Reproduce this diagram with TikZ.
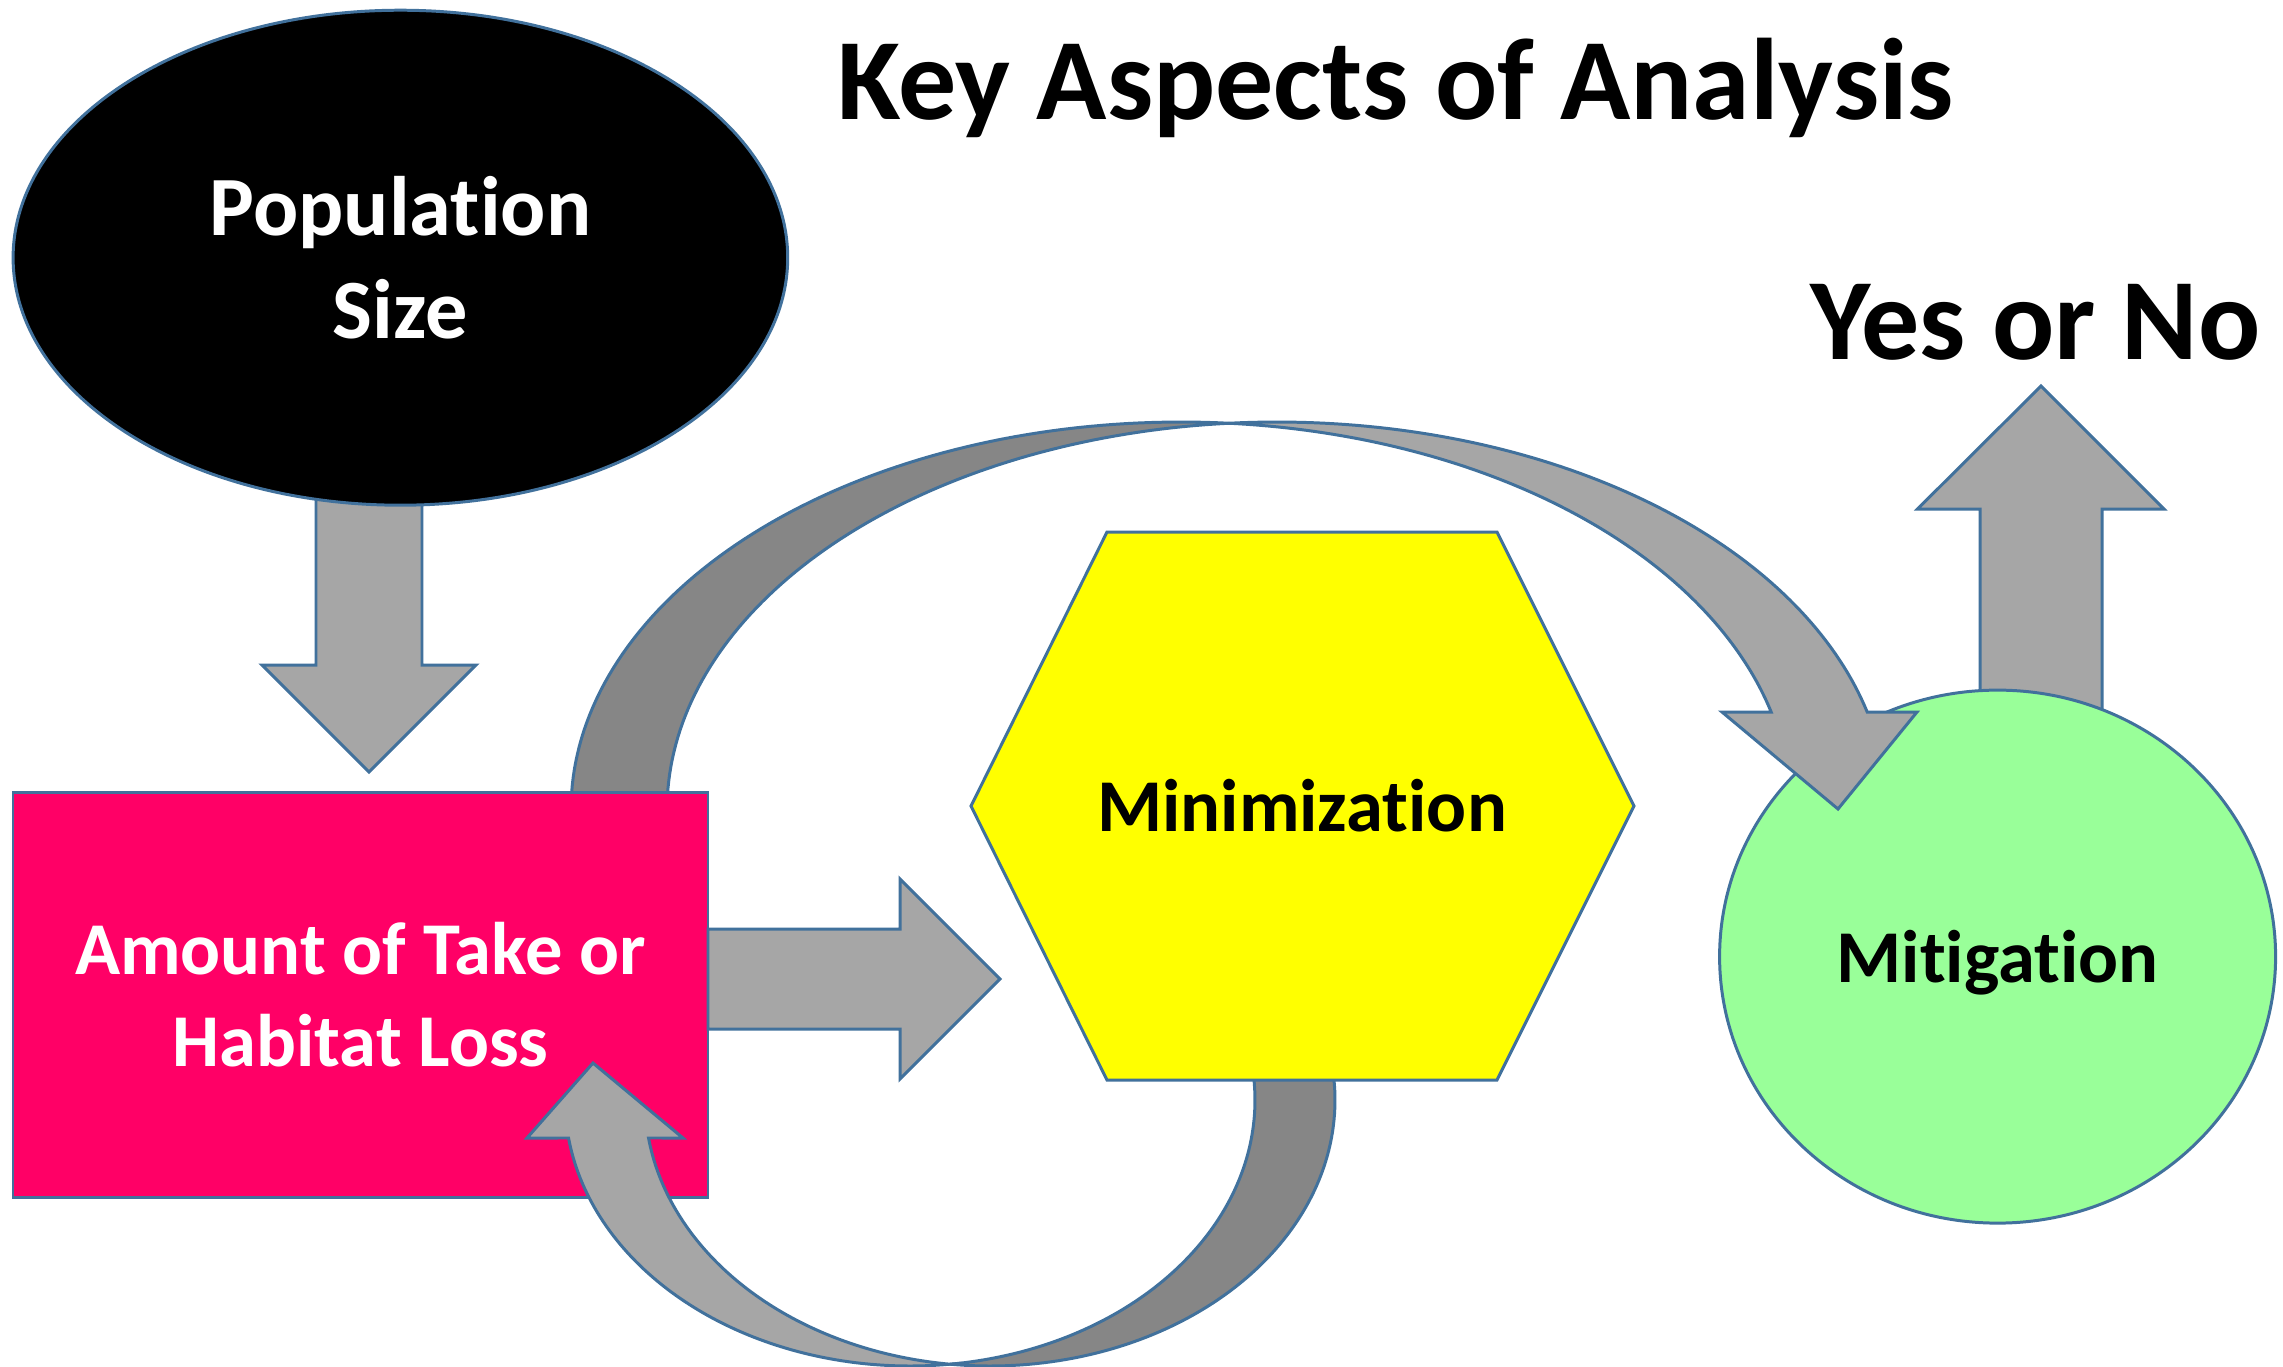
\documentclass[tikz,border=0pt]{standalone}
\usepackage{fontspec}
\setmainfont{Carlito}[Ligatures=NoCommon]
\usetikzlibrary{shapes.geometric}
\definecolor{edgeblue}{HTML}{41719C}
\definecolor{arrowfill}{HTML}{A6A6A6}
\definecolor{arrowshade}{HTML}{868686}
\definecolor{takepink}{HTML}{FF0066}
\definecolor{mitgreen}{HTML}{99FF99}
\definecolor{minyellow}{HTML}{FFFF00}
\begin{document}
\begin{tikzpicture}[x=0.1mm, y=-0.1mm,
  outline/.style={draw=edgeblue, line width=0.85pt, line join=miter},
  blockarrow/.style={outline, fill=arrowfill},
  backband/.style={outline, fill=arrowshade},
  shapetext/.style={font=\bfseries\fontsize{21.2pt}{26.2pt}\selectfont, align=center, inner sep=0pt},
  headline/.style={font=\bfseries\fontsize{33pt}{40pt}\selectfont, inner sep=0pt, anchor=base},
]
\fill[white] (0,0) rectangle (2283,1366);
\useasboundingbox (0,0) rectangle (2283,1366);

% outgoing arrow above the Mitigation circle (its foot is hidden by the circle)
\path[blockarrow] (1980,800) -- (1980,509) -- (1917.5,509) -- (2041,386)
  -- (2164,509) -- (2102,509) -- (2102,800) -- cycle;

\node[ellipse, outline, fill=mitgreen, minimum width=55.6mm, minimum height=53.3mm,
  shapetext, text depth=0pt] (mit) at (1997.6,956.6) {Mitigation};

% upper loop: shaded back band between two offset ellipses
\path[backband]
  plot[domain=180:85.49, samples=80, variable=\t] ({1181+610*cos(\t)},{810-388*sin(\t)})
  -- plot[domain=94.51:180, samples=80, variable=\t] ({1277+610*cos(\t)},{810-388*sin(\t)})
  -- cycle;
% upper loop: front band with its head pointing into the circle
\path[blockarrow]
  plot[domain=94.51:14.63, samples=80, variable=\t] ({1277+610*cos(\t)},{810-388*sin(\t)})
  -- (1917,712) -- (1838,809) -- (1722,712)
  -- plot[domain=14.63:85.49, samples=80, variable=\t] ({1181+610*cos(\t)},{810-388*sin(\t)})
  -- cycle;

% arrow from Population Size down to the box (top hidden by the ellipse)
\path[blockarrow] (316,480) -- (422,480) -- (422,665) -- (476,665) -- (369,772)
  -- (262,665) -- (316,665) -- cycle;

\node[ellipse, outline, fill=black, text=white, minimum width=77.46mm, minimum height=49.5mm,
  shapetext, font=\bfseries\fontsize{24pt}{29.3pt}\selectfont] (pop) at (400.4,257.7) {Population\\Size};

\node[rectangle, outline, fill=takepink, text=white, minimum width=69.5mm, minimum height=40.5mm,
  shapetext] (take) at (360.5,994.5) {Amount of Take or\\Habitat Loss};

% arrow from the box to Minimization
\path[blockarrow] (708,929) -- (900,929) -- (900,879) -- (1000,979) -- (900,1079)
  -- (900,1029) -- (708,1029) -- cycle;

% lower loop: shaded back band
\path[backband]
  plot[domain=96.66:-6.04, samples=80, variable=\t] ({990+345*cos(\t)},{1100+266*sin(\t)})
  -- plot[domain=-6.04:83.34, samples=80, variable=\t] ({910+345*cos(\t)},{1100+266*sin(\t)})
  -- cycle;
% lower loop: front band with its head pointing up into the box
\path[blockarrow]
  plot[domain=83.34:171.79, samples=80, variable=\t] ({910+345*cos(\t)},{1100+266*sin(\t)})
  -- (527,1138) -- (593,1063) -- (683,1138)
  -- plot[domain=171.79:96.66, samples=80, variable=\t] ({990+345*cos(\t)},{1100+266*sin(\t)})
  -- cycle;

% Minimization hexagon
\coordinate (h1) at (1107,532);
\coordinate (h2) at (1497,532);
\coordinate (h3) at (1634,806);
\coordinate (h4) at (1497,1080);
\coordinate (h5) at (1107,1080);
\coordinate (h6) at (971,806);
\path[outline, fill=minyellow] (h1) -- (h2) -- (h3) -- (h4) -- (h5) -- (h6) -- cycle;
\node[shapetext] (minim) at (1302,806) {Minimization};

\node[headline] (title) at (1395.5,119) {Key Aspects of Analysis};
\node[headline] (verdict) at (2035.5,359.6) {Yes or No};
\end{tikzpicture}
\end{document}
